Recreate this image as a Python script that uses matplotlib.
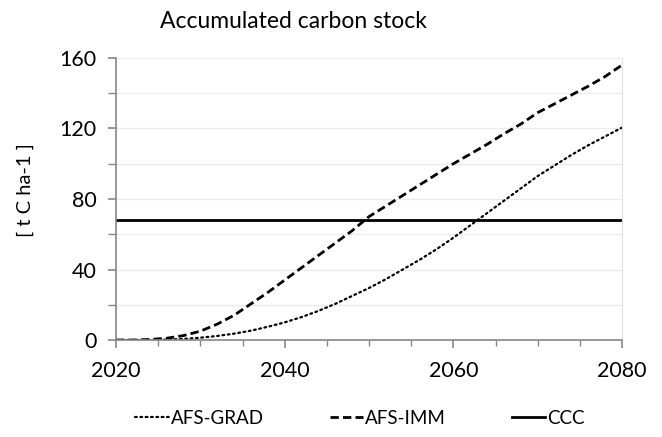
import matplotlib
matplotlib.use("Agg")
import matplotlib.pyplot as plt
from matplotlib.ticker import MultipleLocator

plt.rcParams['font.family'] = ['Lato', 'DejaVu Sans']

years = list(range(2020, 2081, 2))
afs_grad = [0, 0, 0, 0.2, 0.6, 1.3, 2.3, 3.6, 5.3, 7.5, 10, 13, 16.5, 20.5, 25, 29.5,
            34.5, 40, 45.5, 51.5, 58, 65, 72, 79, 86, 93, 99, 105, 110.5, 115.5, 120.5]
afs_imm = [0, 0, 0.3, 1, 2.5, 5, 9, 14, 20.5, 27, 34, 41, 48, 55, 62, 70,
           76, 82, 88, 94, 100, 105.5, 111, 117, 122.5, 129, 134, 139, 144, 149.5, 156]
ccc_value = 68
series_labels = ["AFS-GRAD", "AFS-IMM", "CCC"]
title = "Accumulated carbon stock"
ylabel = "[ t C ha-1 ]"

fig = plt.figure(figsize=(6.62, 4.37), dpi=100)
ax = fig.add_axes([116/662, 1-340/437, (622-116)/662, (340-58)/437])

ax.plot(years, afs_grad, color='black', lw=1.6, linestyle=(0, (0.8, 1.6)),
        dash_capstyle='round', label=series_labels[0])
ax.plot(years, afs_imm, color='black', lw=2.0, linestyle=(0, (3.0, 1.5)),
        label=series_labels[1])
ax.axhline(ccc_value, color='black', lw=2.0, label=series_labels[2])

ax.set_xlim(2020, 2080)
ax.set_ylim(0, 160)
ax.xaxis.set_major_locator(MultipleLocator(20))
ax.xaxis.set_minor_locator(MultipleLocator(5))
ax.yaxis.set_major_locator(MultipleLocator(40))
ax.yaxis.set_minor_locator(MultipleLocator(20))
ax.grid(which='both', axis='y', color='#ebebeb', lw=1.0)
ax.set_axisbelow(True)

ax.spines['top'].set_visible(False)
ax.spines['right'].set_color('#e0e0e0')
for s in ['left', 'bottom']:
    ax.spines[s].set_color('#868686')
    ax.spines[s].set_linewidth(1.2)

ax.tick_params(axis='both', which='major', length=6, width=1.2, color='#868686',
               labelsize=15.5, pad=4)
ax.tick_params(axis='y', which='minor', length=6, width=1.0, color='#868686')
ax.tick_params(axis='x', which='minor', length=4, width=1.0, color='#868686')
ax.tick_params(axis='x', which='major', pad=9)
ax.tick_params(axis='y', which='major', pad=8)

fig.text(25/662, 1-190/437, ylabel, rotation=90, ha='center', va='center', fontsize=14.5)
fig.text(293/662, 1-28/437, title, ha='center', va='baseline', fontsize=16.5)

leg = fig.legend(loc='center', bbox_to_anchor=(360/662, 1-418/437), ncol=3,
                 frameon=False, fontsize=13.5, handlelength=1.8, handletextpad=0.1,
                 columnspacing=3.5)

fig.savefig('out.png', dpi=100)
